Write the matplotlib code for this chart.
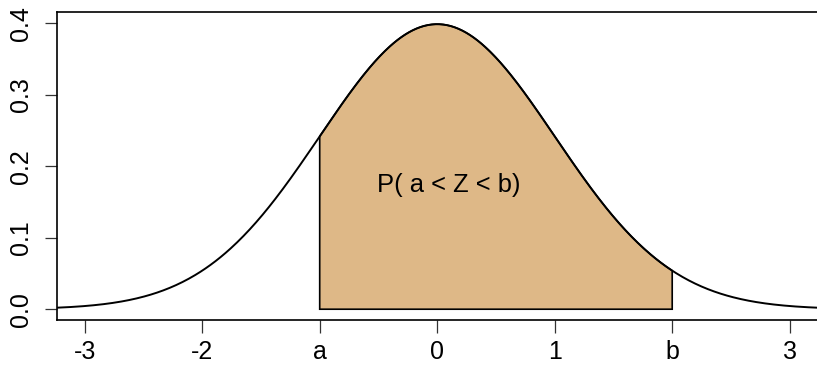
import numpy as np
import matplotlib
matplotlib.use("Agg")
import matplotlib.pyplot as plt

plt.rcParams['font.family'] = ['Liberation Sans', 'DejaVu Sans']

# Standard normal distribution and interval bounds
mu = 0.0
sigma = 1.0
a_val = -1.0
b_val = 2.0
x_ticks = [-3, -2, -1, 0, 1, 2, 3]
x_tick_labels = ['-3', '-2', 'a', '0', '1', 'b', '3']
y_ticks = [0.0, 0.1, 0.2, 0.3, 0.4]
y_tick_labels = ['0.0', '0.1', '0.2', '0.3', '0.4']
label_text = 'P( a < Z < b)'
label_pos = (0.1, 0.174)


def pdf(x):
    return np.exp(-0.5 * ((x - mu) / sigma) ** 2) / (sigma * np.sqrt(2 * np.pi))


W, H = 817, 365
fig = plt.figure(figsize=(W / 100, H / 100), dpi=100)
left, right = 56.5, 818.5
top, bottom = 11.7, 319.5
ax = fig.add_axes([left / W, (H - bottom) / H, (right - left) / W, (bottom - top) / H])

xlim = (-3.24, 3.245)
ylim = (-0.0144, 0.4164)
xs = np.linspace(xlim[0], xlim[1], 600)
ax.plot(xs, pdf(xs), color='black', lw=1.4, solid_capstyle='butt')

xf = np.linspace(a_val, b_val, 400)
poly_x = np.concatenate([[a_val], xf, [b_val, a_val]])
poly_y = np.concatenate([[0], pdf(xf), [0, 0]])
ax.fill(poly_x, poly_y, facecolor='#DEB887', edgecolor='black', lw=1.2)

ax.text(label_pos[0], label_pos[1], label_text, ha='center', va='center', fontsize=18.4)

ax.set_xlim(*xlim)
ax.set_ylim(*ylim)
ax.set_xticks(x_ticks)
ax.set_xticklabels(x_tick_labels)
ax.set_yticks(y_ticks)
ax.set_yticklabels(y_tick_labels, rotation=90, va='center')
ax.tick_params(axis='both', length=9, width=0.9, color='#333333', labelsize=18)
ax.tick_params(axis='x', pad=5.5)
ax.tick_params(axis='y', pad=8)
for s in ax.spines.values():
    s.set_linewidth(1.2)

fig.savefig('out.png', dpi=100)
